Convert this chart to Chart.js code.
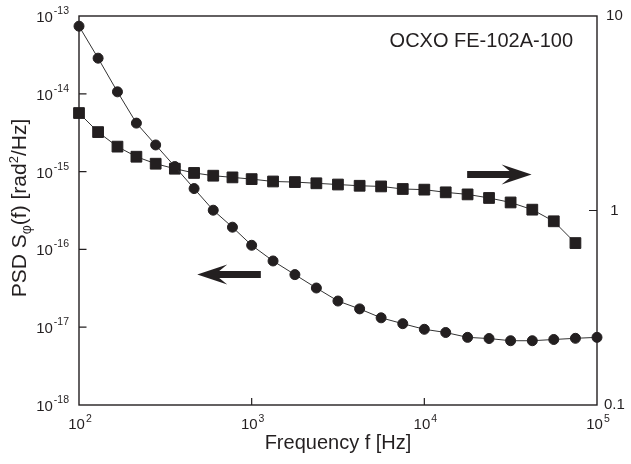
<!DOCTYPE html>
<html>
<head>
<meta charset="utf-8">
<script src="https://cdn.jsdelivr.net/npm/chart.js@4.4.1/dist/chart.umd.min.js"></script>
<style>
  html, body { margin: 0; padding: 0; background: #ffffff; }
  #wrap { width: 631px; height: 464px; }
</style>
</head>
<body>
<div id="wrap"><canvas id="c" width="631" height="464"></canvas></div>
<script>
// ---------------- data ----------------
const frequencies = [100, 129, 167, 215, 278, 359, 464, 599, 774, 1000,
  1330, 1780, 2370, 3160, 4220, 5620, 7500, 10000,
  13300, 17800, 23700, 31600, 42200, 56200, 75000, 100000];

// circles, left axis: PSD S_phi(f) [rad^2/Hz]
const psdValues = [7.4e-14, 2.87e-14, 1.06e-14, 4.2e-15, 2.2e-15, 1.16e-15, 6.05e-16, 3.19e-16, 1.93e-16, 1.13e-16,
  7.1e-17, 4.74e-17, 3.19e-17, 2.17e-17, 1.72e-17, 1.32e-17, 1.11e-17, 9.4e-18,
  8.55e-18, 7.4e-18, 7.15e-18, 6.7e-18, 6.7e-18, 6.95e-18, 7.2e-18, 7.4e-18];

// squares, right axis
const squareFrequencies = [100, 129, 167, 215, 278, 359, 464, 599, 774, 1000,
  1330, 1780, 2370, 3160, 4220, 5620, 7500, 10000,
  13300, 17800, 23700, 31600, 42200, 56200, 75000];
const squareValues = [3.17, 2.53, 2.13, 1.89, 1.74, 1.64, 1.56, 1.51, 1.48, 1.45,
  1.41, 1.40, 1.38, 1.36, 1.34, 1.33, 1.29, 1.28,
  1.24, 1.21, 1.16, 1.10, 1.01, 0.88, 0.68];

// tick labels
const xTickValues = [1e2, 1e3, 1e4, 1e5];
const xTickExponents = ['2', '3', '4', '5'];
const leftTickValues = [1e-18, 1e-17, 1e-16, 1e-15, 1e-14, 1e-13];
const leftTickExponents = ['-18', '-17', '-16', '-15', '-14', '-13'];
const rightTickValues = [0.1, 1, 10];
const rightTickLabels = ['0.1', '1', '10'];

// text
const xTitle = 'Frequency f [Hz]';
const annotationText = 'OCXO FE-102A-100';

// arrow annotations (data space): [from, to, value, axis]
const arrowRight = { from: 17700, to: 41800, value: 1.53, axis: 'y1' };
const arrowLeft = { from: 1130, to: 484, value: 4.74e-17, axis: 'y' };

// ---------------- drawing ----------------
const INK = '#231f20';
const FONT = '"Liberation Sans", Arial, Helvetica, sans-serif';
const f = (sz) => sz + 'px ' + FONT;

function drawPower(ctx, x, yBase, base, exp, align, raise) {
  ctx.font = f(15); const w1 = ctx.measureText(base).width;
  ctx.font = f(10.5); const w2 = ctx.measureText(exp).width;
  const gap = 1, total = w1 + gap + w2;
  const x0 = align === 'right' ? x - total : x - total / 2;
  ctx.textAlign = 'left'; ctx.textBaseline = 'alphabetic';
  ctx.font = f(15); ctx.fillText(base, x0, yBase);
  ctx.font = f(10.5); ctx.fillText(exp, x0 + w1 + gap, yBase - raise);
}

function drawArrow(ctx, x1, x2, y) {
  const dir = Math.sign(x2 - x1);
  const half = 3.5, headLen = 30, headHalf = 10, notch = 8;
  const hb = x2 - dir * headLen;
  ctx.beginPath();
  ctx.moveTo(x1, y - half);
  ctx.lineTo(hb + dir * notch, y - half);
  ctx.lineTo(hb, y - headHalf);
  ctx.lineTo(x2, y);
  ctx.lineTo(hb, y + headHalf);
  ctx.lineTo(hb + dir * notch, y + half);
  ctx.lineTo(x1, y + half);
  ctx.closePath();
  ctx.fill();
}

const framePlugin = {
  id: 'frame',
  beforeDatasetsDraw(chart) {
    const { ctx, chartArea: a } = chart;
    const xs = chart.scales.x, ys = chart.scales.y, yr = chart.scales.y1;
    ctx.save();
    ctx.strokeStyle = INK;
    ctx.lineWidth = 1.4;
    ctx.strokeRect(a.left, a.top, a.right - a.left, a.bottom - a.top);
    ctx.lineWidth = 1.2;
    ctx.beginPath();
    leftTickValues.forEach(v => {
      if (v <= ys.min || v >= ys.max) return;
      const py = ys.getPixelForValue(v);
      ctx.moveTo(a.left, py); ctx.lineTo(a.left + 7.5, py);
    });
    xTickValues.forEach(v => {
      if (v <= xs.min || v >= xs.max) return;
      const px = xs.getPixelForValue(v);
      ctx.moveTo(px, a.bottom); ctx.lineTo(px, a.bottom - 7);
    });
    rightTickValues.forEach(v => {
      if (v <= yr.min || v >= yr.max) return;
      const py = yr.getPixelForValue(v);
      ctx.moveTo(a.right, py); ctx.lineTo(a.right - 8, py);
    });
    ctx.stroke();
    ctx.restore();
  },
  afterDraw(chart) {
    const { ctx, chartArea: a } = chart;
    const xs = chart.scales.x, ys = chart.scales.y;
    ctx.save();
    ctx.fillStyle = INK;
    // left tick labels
    leftTickValues.forEach((v, i) => {
      const py = ys.getPixelForValue(v);
      drawPower(ctx, a.left - 10, py + 6, '10', leftTickExponents[i], 'right', 8);
    });
    // bottom tick labels
    xTickValues.forEach((v, i) => {
      const px = xs.getPixelForValue(v);
      drawPower(ctx, px + 1, a.bottom + 24, '10', xTickExponents[i], 'center', 7);
    });
    // y title with subscript and superscript
    const segs = [
      { t: 'PSD S', s: 21, dy: 0 },
      { t: '\u03c6', s: 14, dy: 5 },
      { t: '(f) [rad', s: 21, dy: 0 },
      { t: '2', s: 13, dy: -8 },
      { t: '/Hz]', s: 21, dy: 0 }
    ];
    let total = 0;
    segs.forEach(sg => { ctx.font = f(sg.s); sg.w = ctx.measureText(sg.t).width; total += sg.w; });
    ctx.translate(18, 208);
    ctx.rotate(-Math.PI / 2);
    ctx.textAlign = 'left'; ctx.textBaseline = 'alphabetic';
    let x = -total / 2;
    segs.forEach(sg => { ctx.font = f(sg.s); ctx.fillText(sg.t, x, 7.5 + sg.dy); x += sg.w; });
    ctx.setTransform(1, 0, 0, 1, 0, 0);
    // annotation text
    ctx.font = f(20);
    ctx.textAlign = 'right';
    ctx.fillText(annotationText, a.right - 24, a.top + 31);
    // arrows
    [arrowRight, arrowLeft].forEach(ar => {
      const sc = chart.scales[ar.axis];
      drawArrow(ctx, xs.getPixelForValue(ar.from), xs.getPixelForValue(ar.to), sc.getPixelForValue(ar.value));
    });
    ctx.restore();
  }
};

const ctx = document.getElementById('c').getContext('2d');
new Chart(ctx, {
  type: 'line',
  data: {
    datasets: [
      {
        label: 'PSD',
        data: frequencies.map((fr, i) => ({ x: fr, y: psdValues[i] })),
        yAxisID: 'y',
        borderColor: '#333333',
        borderWidth: 1,
        pointStyle: 'circle',
        pointRadius: 5,
        pointBackgroundColor: INK,
        pointBorderColor: INK,
        pointBorderWidth: 1,
        tension: 0,
        clip: false
      },
      {
        label: 'Right axis',
        data: squareFrequencies.map((fr, i) => ({ x: fr, y: squareValues[i] })),
        yAxisID: 'y1',
        borderColor: '#333333',
        borderWidth: 1,
        pointStyle: 'rect',
        pointRadius: 7.6,
        pointBackgroundColor: INK,
        pointBorderColor: INK,
        pointBorderWidth: 1,
        tension: 0,
        clip: false
      }
    ]
  },
  options: {
    responsive: false,
    animation: false,
    devicePixelRatio: 1,
    layout: { padding: { top: 15, left: 0, right: 0, bottom: 0 } },
    plugins: { legend: { display: false }, tooltip: { enabled: false } },
    scales: {
      x: {
        type: 'logarithmic', min: 100, max: 100000,
        grid: { display: false, drawTicks: false }, border: { display: false },
        ticks: { display: false },
        title: { display: true, text: xTitle, color: INK, font: { family: FONT, size: 20 }, padding: { top: 0, bottom: 9 } },
        afterFit(s) { s.height = 59; }
      },
      y: {
        type: 'logarithmic', position: 'left', min: 1e-18, max: 1e-13,
        grid: { display: false, drawTicks: false }, border: { display: false },
        ticks: { display: false },
        afterFit(s) { s.width = 79; }
      },
      y1: {
        type: 'logarithmic', position: 'right', min: 0.1, max: 10,
        grid: { display: false, drawTicks: false }, border: { display: false },
        afterBuildTicks(s) { s.ticks = rightTickValues.map(v => ({ value: v })); },
        ticks: {
          display: true, color: INK, font: { family: FONT, size: 15 }, padding: 7, crossAlign: 'center',
          autoSkip: false,
          callback: (v) => { const i = rightTickValues.findIndex(t => Math.abs(t - v) < 1e-9 * Math.max(1, t)); return i >= 0 ? rightTickLabels[i] : ''; }
        },
        afterFit(s) { s.width = 34; }
      }
    }
  },
  plugins: [framePlugin]
});
</script>
</body>
</html>
